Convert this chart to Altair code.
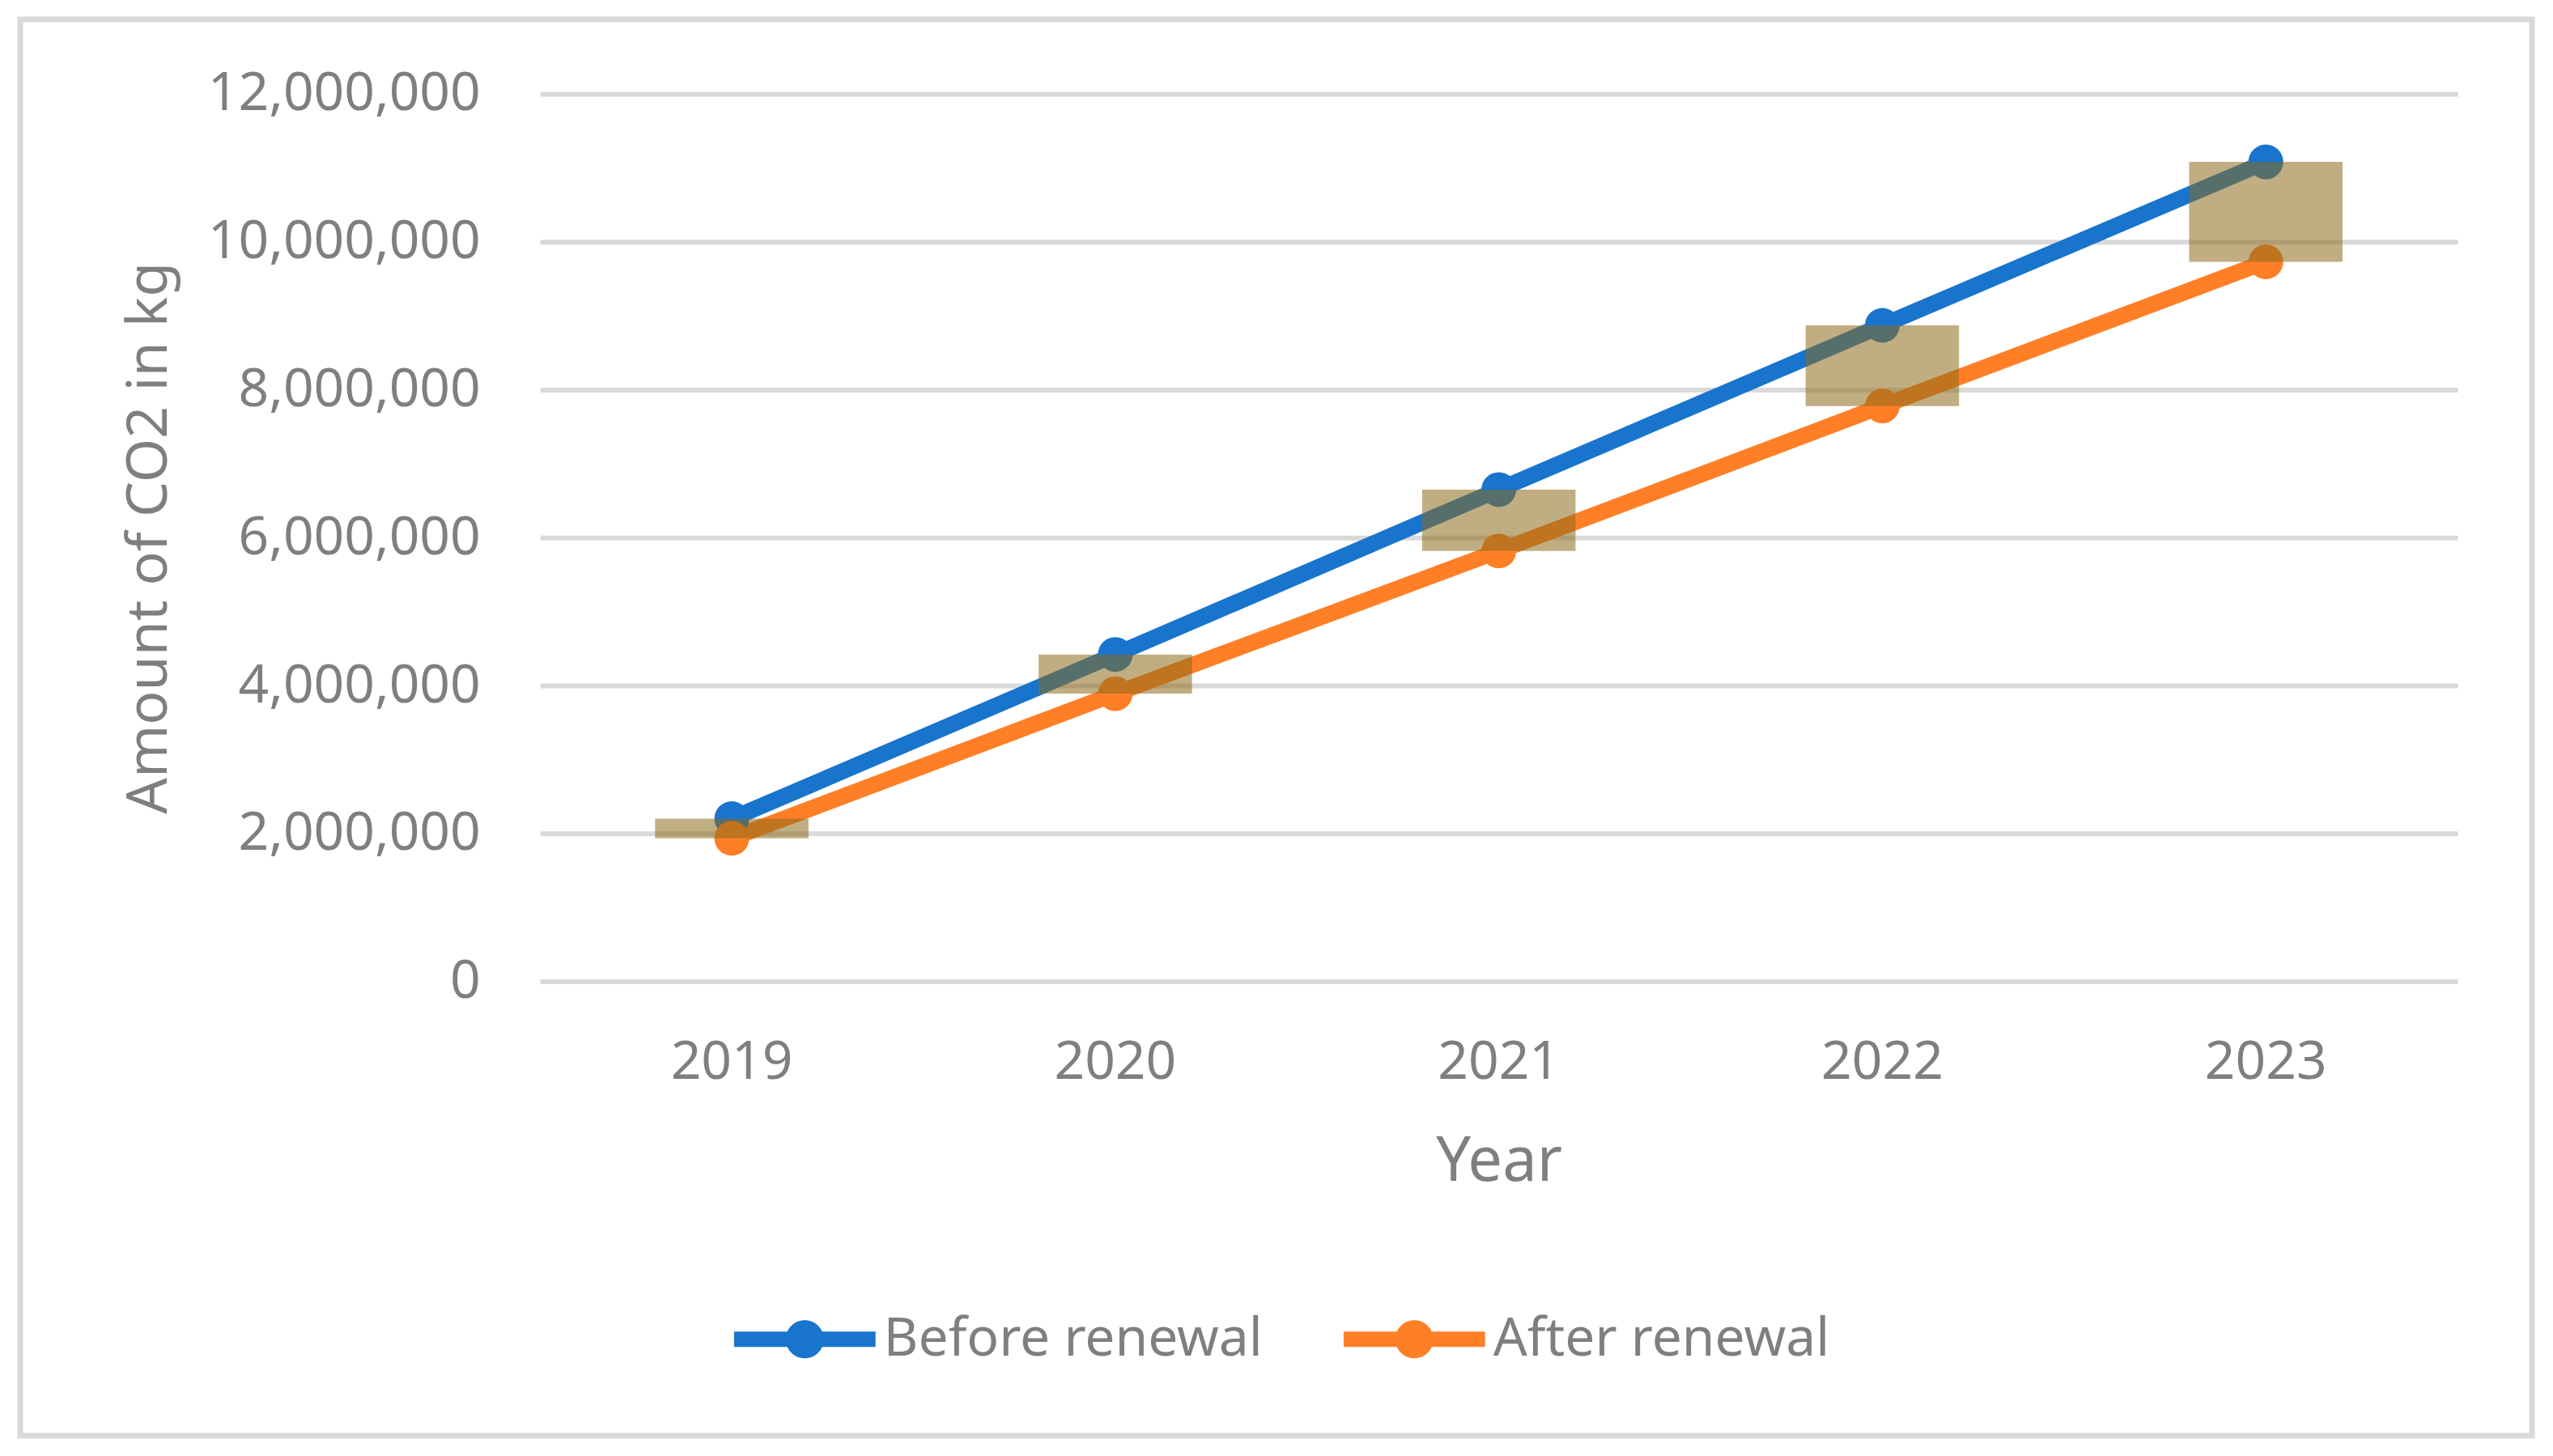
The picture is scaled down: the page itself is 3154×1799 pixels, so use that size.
import altair as alt
import pandas as pd

years = ["2019", "2020", "2021", "2022", "2023"]
before = [2200000, 4420000, 6650000, 8870000, 11080000]
after = [1935000, 3890000, 5820000, 7780000, 9730000]
series = ["Before renewal", "After renewal"]
colors = ["#1874cd", "#ff7f27"]
y_ticks = [0, 2000000, 4000000, 6000000, 8000000, 10000000, 12000000]

df = pd.DataFrame({"year": years, "Before renewal": before, "After renewal": after})

FONT = "Noto Sans"
GREY = "#7f7f7f"
W, H = 2372, 1098

legend_path = ("M-1,-0.109L1,-0.109L1,0.109L-1,0.109Z "
               "M0.269,0A0.269,0.269,0,1,1,-0.269,0A0.269,0.269,0,1,1,0.269,0Z")

xaxis = alt.Axis(title="Year", labelAngle=0, labelFontSize=66, labelColor=GREY,
                 labelFont=FONT, labelPadding=68, ticks=False, domain=False,
                 grid=False, titleFont=FONT, titleFontSize=76,
                 titleFontWeight="normal", titleColor=GREY,
                 titleBaseline="alphabetic", titleY=246)
xscale = alt.Scale(type="band", paddingInner=0, paddingOuter=0)

yscale = alt.Scale(domain=[0, 12000000], nice=False)
yaxis = alt.Axis(title="Amount of CO2 in kg", values=y_ticks,
                 labelExpr="format(datum.value, ',')",
                 labelFontSize=66, labelColor=GREY, labelFont=FONT, labelPadding=74,
                 labelLimit=1000, ticks=False, domain=False, grid=True,
                 gridColor="#d9d9d9", gridWidth=6, titleFont=FONT, titleFontSize=70,
                 titleFontWeight="normal", titleColor=GREY, titleBaseline="alphabetic",
                 titleX=-462, titleY=H / 2, titleAngle=270)

color_scale = alt.Scale(domain=series, range=colors)

base = alt.Chart(df)

lines = base.transform_fold(series, as_=["series", "value"]).mark_line(
    strokeWidth=20, strokeJoin="round"
).encode(
    x=alt.X("year:O", bandPosition=0.5, scale=xscale, axis=xaxis),
    y=alt.Y("value:Q", scale=yscale, axis=yaxis),
    color=alt.Color("series:N", scale=color_scale, legend=None),
)

points = base.transform_fold(series, as_=["series", "value"]).mark_point(
    filled=True, size=1850, opacity=1, strokeWidth=0
).encode(
    x=alt.X("year:O", bandPosition=0.5, scale=xscale, axis=xaxis),
    y=alt.Y("value:Q", scale=yscale, axis=yaxis),
    color=alt.Color("series:N", scale=color_scale,
                    legend=alt.Legend(title=None, orient="none", direction="horizontal",
                                      legendX=240, legendY=1453, symbolType=legend_path,
                                      symbolSize=30625, symbolStrokeWidth=0,
                                      labelFont=FONT, labelFontSize=66, labelColor=GREY,
                                      labelLimit=1000, labelOffset=10, columnPadding=100,
                                      symbolOpacity=1)),
)

bars = base.mark_bar(color="#8d6c1c", opacity=0.55, width=alt.RelativeBandSize(0.4)).encode(
    x=alt.X("year:O", scale=xscale, axis=xaxis),
    y=alt.Y("Before renewal:Q", scale=yscale, axis=yaxis),
    y2=alt.Y2("After renewal:Q"),
)

frame = alt.Chart(pd.DataFrame({"a": [0]})).mark_rect(
    fillOpacity=0, stroke="#d9d9d9", strokeWidth=7
).encode(
    x=alt.value(-643), x2=alt.value(2464), y=alt.value(-92), y2=alt.value(1660)
)

chart = alt.layer(frame, lines, points, bars).resolve_legend(color="independent").properties(
    width=W, height=H,
    autosize=alt.AutoSizeParams(type="none"),
    padding={"left": 660, "top": 107, "right": 110, "bottom": 570},
    background="white",
).configure_view(strokeWidth=0)

chart.save("out.html", embed_options={"renderer": "svg", "actions": False})
